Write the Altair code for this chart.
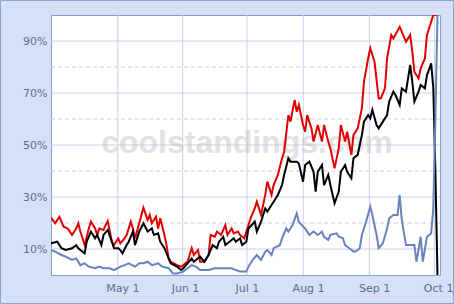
import altair as alt
import pandas as pd

# ---- data (day index from season start, percent) ----
red_day = [0,2,4,6,8,10,12,13,14,16,18,19,21,22,23,25,26,27,29,30,32,33,35,36,38,39,40,42,44,46,47,48,50,51,52,54,55,56,57,60,62,63,65,67,68,70,71,73,75,76,78,79,81,83,84,86,87,89,90,92,94,95,97,98,100,102,103,105,106,108,110,111,113,114,116,117,118,120,121,122,124,125,127,129,130,132,133,135,137,138,140,141,143,144,146,148,149,151,152,154,156,157,159,160,162,163,166,167,169,171,172,173,175,176,178,179,181,182,184]
red_pct = [22.1,19.9,22.4,18.6,17.9,15.4,17.9,19.9,16.7,11.5,17.9,20.5,17.9,15.4,17.9,17.3,19.2,20.8,12.8,11.5,14.1,12.2,14.1,15.4,20.5,17.9,14.1,19.9,25.9,21.2,23.1,19.9,22.4,17.9,21.8,15.4,11.5,6.4,5.1,3.8,3.2,3.8,5.1,10.3,7.7,9.6,5.1,5.1,7.7,15.4,14.7,16.7,15.4,19.2,15.4,17.9,16.0,16.7,15.4,14.1,19.2,21.8,25.6,28.2,23.1,30.8,35.9,30.8,34.6,38.5,44.9,47.4,61.5,59.0,67.3,62.8,65.4,57.7,55.1,61.5,56.4,51.3,57.7,51.3,57.7,51.3,48.7,41.0,48.7,57.7,51.3,55.1,46.2,53.8,56.4,64.1,74.4,83.3,87.2,82.1,67.9,67.9,71.8,83.3,92.3,91.0,95.5,93.6,89.7,92.3,85.9,78.2,75.6,79.5,83.3,92.3,97.4,100.0,100.0]

black_day = [0,3,5,7,10,12,13,16,17,19,21,22,24,25,27,29,30,32,33,34,36,37,39,40,42,44,46,48,49,51,52,54,56,57,60,62,63,65,67,68,71,73,75,77,79,80,82,83,85,87,88,90,91,93,94,97,98,100,102,103,105,106,108,110,111,113,114,117,118,120,121,123,125,126,127,129,130,132,133,135,137,138,140,141,143,144,146,148,149,151,152,153,155,156,158,160,161,163,164,166,167,169,171,172,173,175,176,178,179,181,182,183,184]
black_pct = [12.2,12.8,10.3,9.6,10.3,11.5,10.3,8.3,12.8,16.7,14.1,15.4,11.5,15.4,17.3,12.8,10.3,10.3,9.6,8.3,11.5,12.8,16.7,11.5,16.7,19.9,16.7,17.9,15.4,16.0,12.8,10.3,6.4,4.5,3.2,1.9,2.6,4.5,6.4,5.1,7.1,5.1,7.7,11.5,10.3,12.8,14.7,11.5,12.8,14.1,12.8,14.1,11.5,12.8,17.9,20.5,16.7,20.5,25.6,24.4,26.9,28.2,30.8,34.6,38.5,44.9,43.6,43.6,42.9,35.9,42.3,43.6,39.7,32.1,39.7,42.3,34.6,38.5,34.6,27.6,32.1,39.7,42.3,39.7,37.2,44.9,46.2,53.8,59.0,61.5,60.3,63.5,57.7,56.4,59.0,61.5,66.7,70.5,69.2,65.4,71.8,70.5,80.8,74.4,66.7,70.5,73.1,71.8,76.9,81.4,72.0,40.0,0.0]

blue_day = [0,2,5,7,10,12,14,16,18,21,23,25,28,30,33,35,37,40,42,44,46,48,51,53,56,58,60,63,65,67,69,71,75,78,81,83,86,88,90,93,94,96,98,100,102,103,105,106,109,110,112,113,115,117,118,120,121,123,125,127,129,130,132,133,136,137,139,140,142,144,145,147,148,150,152,153,155,156,158,160,161,163,165,166,167,169,171,172,173,174,176,177,179,180,181,182,183,184]
blue_pct = [9.6,9.0,7.7,7.1,5.8,6.4,3.8,4.5,3.2,2.6,3.2,2.6,2.6,1.9,3.2,3.8,4.5,3.2,4.5,4.5,5.1,3.8,4.5,3.2,2.6,0.6,0.6,1.3,2.6,3.8,3.2,1.9,1.9,2.6,2.6,2.6,2.6,1.9,1.3,1.3,3.2,5.8,7.7,5.8,9.0,9.6,7.7,10.3,11.5,14.1,17.9,16.7,19.2,23.7,20.5,18.6,17.9,15.4,16.7,15.4,16.7,14.7,13.5,15.4,16.0,14.7,14.1,11.5,10.3,9.0,9.0,10.3,15.4,20.5,26.3,23.1,15.4,10.3,12.2,17.9,21.8,23.1,23.1,30.8,21.2,11.5,11.5,11.5,11.5,5.1,14.7,5.1,14.7,15.4,16.0,25.6,60.0,100.0]

# axis / grid values
y_label_vals = [10, 30, 50, 70, 90]
y_dashed_vals = [20, 40, 60, 80]
x_grid_vals = [31.8, 62.7, 93.3, 120.1, 151.6, 182.5]
x_label_vals = [34.0, 63.8, 93.3, 122.4, 153.8, 184.3]
x_label_txt = ["May 1", "Jun 1", "Jul 1", "Aug 1", "Sep 1", "Oct 1"]

LABEL_COLOR = "#5d6d91"
GRID_COLOR = "#c8d2ea"
XDOM = [0, 185.2]

xs = alt.Scale(domain=XDOM, nice=False, zero=False)
ys = alt.Scale(domain=[0, 100], nice=False)

label_expr = "[" + ",".join("'%s'" % t for t in x_label_txt) + "][indexof([" + \
    ",".join(str(v) for v in x_label_vals) + "], datum.value)]"

X_AXIS = alt.Axis(
    values=x_label_vals, labelExpr=label_expr, grid=False, ticks=False,
    domain=False, labelPadding=7, labelFont="DejaVu Sans", labelFontSize=11,
    labelColor=LABEL_COLOR, title=None, labelOverlap=False, labelFlush=False)
Y_AXIS = alt.Axis(
    values=y_label_vals, labelExpr="datum.value + '%'", grid=False, ticks=False,
    domain=False, labelPadding=4, labelFont="DejaVu Sans", labelFontSize=11,
    labelColor=LABEL_COLOR, title=None)


def X():
    return alt.X("day:Q", scale=xs, axis=X_AXIS)


def Y():
    return alt.Y("pct:Q", scale=ys, axis=Y_AXIS)


hsolid = alt.Chart(pd.DataFrame({"pct": y_label_vals})).mark_rule(
    color=GRID_COLOR, strokeWidth=1).encode(y=Y())
hdash = alt.Chart(pd.DataFrame({"pct": y_dashed_vals})).mark_rule(
    color=GRID_COLOR, strokeWidth=1, strokeDash=[4, 3]).encode(y=Y())
vgrid = alt.Chart(pd.DataFrame({"day": x_grid_vals})).mark_rule(
    color=GRID_COLOR, strokeWidth=1).encode(x=X())

one = pd.DataFrame({"k": [0]})
watermark = alt.Chart(one).mark_text(
    text="coolstandings.com", font="Liberation Sans", fontWeight="bold",
    fontSize=32, color="#b8b8b8", opacity=0.4, align="center", baseline="middle"
).encode(x=alt.value(196), y=alt.value(128))


def series(days, vals, color):
    df = pd.DataFrame({"day": days, "pct": vals})
    return alt.Chart(df).mark_line(color=color, strokeWidth=2, clip=True).encode(
        x=X(), y=Y())


red = series(red_day, red_pct, "#e00000")
black = series(black_day, black_pct, "#000000")
blue = series(blue_day, blue_pct, "#6a82bb")

frame = alt.Chart(one).mark_rect(fillOpacity=0, stroke="#8ea2dc", strokeWidth=1).encode(
    x=alt.value(-50.5), x2=alt.value(402.5), y=alt.value(-14.5), y2=alt.value(288.5))

chart = alt.layer(
    hsolid, hdash, vgrid, watermark, red, black, blue, frame
).properties(
    width=389, height=260,
    autosize=alt.AutoSizeParams(type="none"),
    padding={"left": 51, "top": 15, "right": 14, "bottom": 29},
    background="#d6e0f6",
).configure_view(fill="white", stroke="#8a9bcf", strokeWidth=1)

chart.save("out.html", embed_options={"renderer": "svg", "actions": False})
